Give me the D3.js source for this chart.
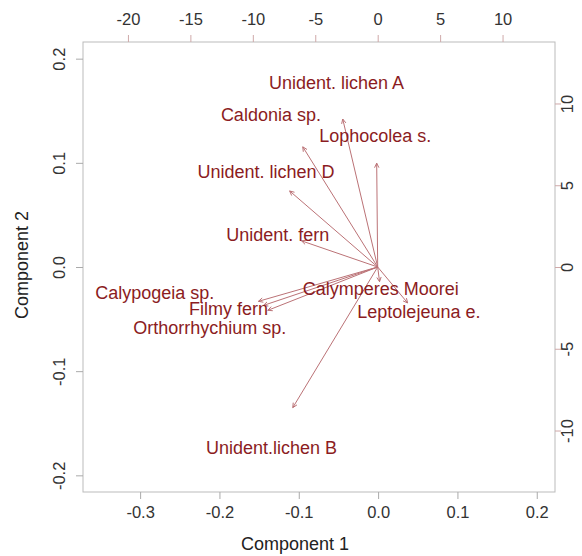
<!DOCTYPE html>
<html>
<head>
<meta charset="utf-8">
<script src="https://cdnjs.cloudflare.com/ajax/libs/d3/7.8.5/d3.min.js"></script>
<style>
  body { margin: 0; background: #fff; }
  text { font-family: "Liberation Sans", Arial, sans-serif; }
  .tick line { stroke: #aaa; }
  .sec .tick line { stroke: #cfa9a9; }
  .label { fill: #222; font-size: 18px; }
  .species { fill: #8b1c22; font-size: 18px; }
  .arrow { stroke: #bb7276; stroke-width: 1; fill: none; }
</style>
</head>
<body>
<div class="graph"></div>
<script>
// biplot loadings (secondary axes units)
var species = ["Unident. lichen A", "Caldonia sp.", "Lophocolea s.", "Unident. lichen D",
  "Unident. fern", "Calypogeia sp.", "Filmy fern", "Orthorrhychium sp.",
  "Calymperes Moorei", "Leptolejeuna e.", "Unident.lichen B"];
var arrowX = [-2.8, -6.0, -0.08, -7.05, -6.1, -9.55, -8.8, -9.15, 0.15, 2.4, -6.8];
var arrowY = [9.05, 7.35, 6.35, 4.65, 1.6, -2.1, -2.65, -2.35, -0.9, -2.2, -8.6];
var labelX = [-3.3, -8.55, -0.2, -8.95, -8.0, -17.85, -11.95, -13.45, 0.25, 3.3, -8.5];
var labelY = [11.3, 9.3, 8.05, 5.8, 2.0, -1.55, -2.55, -3.7, -1.3, -2.75, -11.05];

var bottomTicks = [-0.3, -0.2, -0.1, 0.0, 0.1, 0.2];
var leftTicks = [-0.2, -0.1, 0.0, 0.1, 0.2];
var topTicks = [-20, -15, -10, -5, 0, 5, 10];
var rightTicks = [-10, -5, 0, 5, 10];

var W = 582, H = 556;
var box = {left: 83, right: 555, top: 42, bottom: 492};

var x = d3.scaleLinear().domain([-0.372, 0.223]).range([box.left, box.right]);
var y = d3.scaleLinear().domain([-0.216, 0.216]).range([box.bottom, box.top]);
var x2 = d3.scaleLinear().domain([-23.6, 14.2]).range([box.left, box.right]);
var y2 = d3.scaleLinear().domain([-13.76, 13.76]).range([box.bottom, box.top]);

var svg = d3.select(".graph").append("svg")
    .attr("width", W)
    .attr("height", H);

svg.append("rect")
    .attr("x", box.left)
    .attr("y", box.top)
    .attr("width", box.right - box.left)
    .attr("height", box.bottom - box.top)
    .attr("fill", "none")
    .attr("stroke", "#bbb");

// R prints a plain hyphen for negatives
var fmt = function(d) { return d3.format(".1f")(d).replace("\u2212", "-"); };
var fmtInt = function(d) { return String(d); };

// bottom axis
var gx = svg.append("g")
    .attr("transform", "translate(0," + box.bottom + ")")
    .call(d3.axisBottom(x).tickValues(bottomTicks).tickFormat(fmt).tickSize(7).tickSizeOuter(0));
gx.select(".domain").remove();
gx.selectAll(".tick text").attr("y", 26).attr("dy", 0);

// left axis, labels parallel to axis
var gy = svg.append("g")
    .attr("transform", "translate(" + box.left + ",0)")
    .call(d3.axisLeft(y).tickValues(leftTicks).tickFormat(fmt).tickSize(7).tickSizeOuter(0));
gy.select(".domain").remove();
gy.selectAll(".tick text")
    .attr("x", 0).attr("dy", 0)
    .attr("text-anchor", "middle")
    .attr("transform", "translate(-18,0) rotate(-90)");

// top axis (secondary)
var gx2 = svg.append("g")
    .attr("class", "sec")
    .attr("transform", "translate(0," + box.top + ")")
    .call(d3.axisTop(x2).tickValues(topTicks).tickFormat(fmtInt).tickSize(7).tickSizeOuter(0));
gx2.select(".domain").remove();
gx2.selectAll(".tick text").attr("y", -17).attr("dy", 0);

// right axis (secondary)
var gy2 = svg.append("g")
    .attr("class", "sec")
    .attr("transform", "translate(" + box.right + ",0)")
    .call(d3.axisRight(y2).tickValues(rightTicks).tickFormat(fmtInt).tickSize(6).tickSizeOuter(0));
gy2.select(".domain").remove();
gy2.selectAll(".tick text")
    .attr("x", 0).attr("dy", 0)
    .attr("text-anchor", "middle")
    .attr("transform", "translate(18,0) rotate(-90)");

svg.selectAll(".tick text").attr("fill", "#333").style("font-size", "16.5px");

svg.append("text")
    .attr("class", "label")
    .attr("x", 295)
    .attr("y", 550)
    .attr("text-anchor", "middle")
    .text("Component 1");

svg.append("text")
    .attr("class", "label")
    .attr("transform", "translate(28,265) rotate(-90)")
    .attr("text-anchor", "middle")
    .text("Component 2");

// arrows from the origin to each loading
var ax0 = x2(0), ay0 = y2(0);
var head = 5;
species.forEach(function(s, i) {
  var ex = x2(arrowX[i]), ey = y2(arrowY[i]);
  var ang = Math.atan2(ey - ay0, ex - ax0);
  var a1 = ang + Math.PI - 0.45, a2 = ang + Math.PI + 0.45;
  var p = d3.path();
  p.moveTo(ax0, ay0);
  p.lineTo(ex, ey);
  p.moveTo(ex + head * Math.cos(a1), ey + head * Math.sin(a1));
  p.lineTo(ex, ey);
  p.lineTo(ex + head * Math.cos(a2), ey + head * Math.sin(a2));
  svg.append("path")
      .attr("class", "arrow")
      .attr("d", p.toString());
});

svg.selectAll(".species")
    .data(species)
  .enter().append("text")
    .attr("class", "species")
    .attr("x", function(d, i) { return x2(labelX[i]); })
    .attr("y", function(d, i) { return y2(labelY[i]); })
    .attr("dy", ".35em")
    .attr("text-anchor", "middle")
    .text(function(d) { return d; });
</script>
</body>
</html>
